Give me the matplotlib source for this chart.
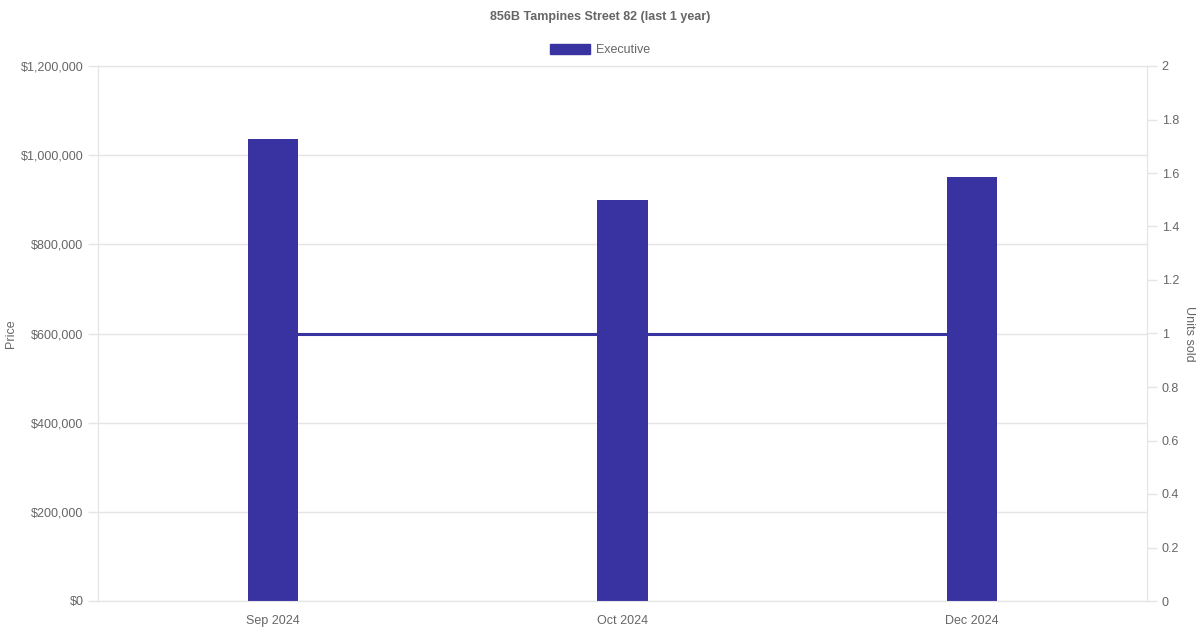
import matplotlib
matplotlib.use('Agg')
import matplotlib.pyplot as plt
from matplotlib.ticker import FuncFormatter, MultipleLocator

months = ['Sep 2024', 'Oct 2024', 'Dec 2024']
prices = [1037000, 900000, 950000]
units_sold = [1, 1, 1]

BAR_COLOR = '#3833A0'
TEXT = '#666666'
GRID = '#e5e5e5'

plt.rcParams['font.family'] = ['Liberation Sans', 'DejaVu Sans']
plt.rcParams['font.size'] = 9

fig = plt.figure(figsize=(12, 6.3), dpi=100)
ax = fig.add_axes([98 / 1200, 1 - 601 / 630, (1147 - 98) / 1200, (601 - 66) / 630])
ax2 = ax.twinx()

x = list(range(len(months)))
ax.bar(x, prices, width=0.143, color=BAR_COLOR, zorder=3)
ax.set_xlim(-0.5, len(months) - 0.5)
ax.set_ylim(0, 1200000)
ax.yaxis.set_major_locator(MultipleLocator(200000))
ax.yaxis.set_major_formatter(FuncFormatter(lambda v, p: f'${v:,.0f}'))
ax.set_xticks(x)
ax.set_xticklabels(months)
ax.grid(axis='y', color=GRID, linewidth=1, zorder=0)
ax.grid(axis='x', visible=False)
ax.set_ylabel('Price', color=TEXT, fontsize=9, va='center')
ax.yaxis.set_label_coords(-0.083, 0.5)

# units sold line on the right axis (same colour as bars, so overlap is invisible)
ax2.plot(x, units_sold, color=BAR_COLOR, linewidth=2.2, zorder=1)
ax2.set_ylim(0, 2)
ax2.yaxis.set_major_locator(MultipleLocator(0.2))
ax2.yaxis.set_major_formatter(FuncFormatter(lambda v, p: f'{v:g}'))
ax2.set_ylabel('Units sold', color=TEXT, fontsize=9, rotation=270, va='center')
ax2.yaxis.set_label_coords(1.040, 0.5)

for a in (ax, ax2):
    for s in a.spines.values():
        s.set_color(GRID)
    a.tick_params(colors=TEXT, labelsize=9, length=7, width=1, pad=3.5)
    a.tick_params(axis='both', color=GRID)
ax.tick_params(axis='x', length=0, pad=10)

fig.suptitle('856B Tampines Street 82 (last 1 year)', y=1 - 17 / 630, va='center',
             fontsize=9, fontweight='bold', color=TEXT)
handle = plt.Rectangle((0, 0), 1, 1, color=BAR_COLOR)
fig.legend([handle], ['Executive'], loc='center', bbox_to_anchor=(0.5, 1 - 50 / 630),
           frameon=False, fontsize=9, labelcolor=TEXT, handlelength=3.2, handleheight=0.9,
           handletextpad=0.5)

fig.savefig('out.png', dpi=100)
